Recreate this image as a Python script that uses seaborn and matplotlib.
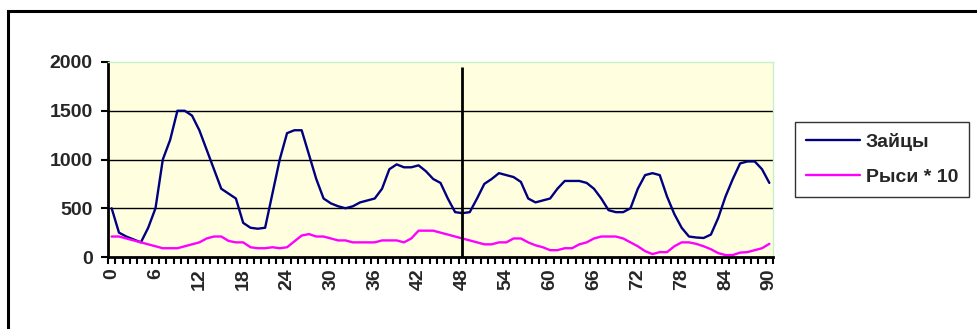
import numpy as np
import pandas as pd
import matplotlib
matplotlib.use("Agg")
import matplotlib.pyplot as plt
import seaborn as sns

years = list(range(0, 91))

hares = [500, 250, 210, 180, 150, 300, 500, 1000, 1200, 1500,
         1500, 1450, 1300, 1100, 900, 700, 650, 600, 350, 300,
         290, 300, 650, 1000, 1270, 1300, 1300, 1050, 800, 600,
         550, 520, 500, 520, 560, 580, 600, 700, 900, 950,
         920, 920, 940, 880, 800, 760, 600, 460, 450, 460,
         600, 750, 800, 860, 840, 820, 770, 600, 560, 580,
         600, 700, 780, 780, 780, 760, 700, 600, 480, 460,
         460, 500, 700, 840, 860, 840, 620, 440, 300, 210,
         200, 195, 230, 400, 620, 800, 960, 980, 980, 900,
         760]

lynx_x10 = [210, 210, 190, 170, 150, 130, 110, 90, 90, 90,
            110, 130, 150, 190, 210, 210, 165, 150, 150, 100,
            90, 90, 100, 90, 100, 160, 220, 235, 210, 210,
            190, 170, 170, 150, 150, 150, 150, 170, 170, 170,
            150, 190, 270, 270, 270, 250, 230, 210, 190, 170,
            150, 130, 130, 150, 150, 190, 190, 150, 120, 100,
            70, 70, 90, 90, 130, 150, 190, 210, 210, 210,
            190, 150, 110, 60, 30, 50, 50, 110, 150, 150,
            135, 110, 80, 40, 20, 20, 45, 50, 70, 90,
            135]

series_names = ["Зайцы", "Рыси * 10"]
tick_years = list(range(0, 91, 6))
y_ticks = [0, 500, 1000, 1500, 2000]
marker_year = 48

df = pd.DataFrame({
    "year": years * 2,
    "value": hares + lynx_x10,
    "series": [series_names[0]] * len(years) + [series_names[1]] * len(years),
})

sns.set_style("white")
plt.rcParams["font.family"] = ["Liberation Sans", "DejaVu Sans"]
plt.rcParams["font.weight"] = "bold"
FS = 14

fig = plt.figure(figsize=(9.78, 3.29), dpi=100)
# outer chart frame (runs off the right and bottom edges)
fig.patches.append(plt.Rectangle((8 / 978, -0.05), 1.1, 1 - 11 / 329 + 0.05,
                                 transform=fig.transFigure, fill=False,
                                 edgecolor="black", linewidth=2.2))

ax = fig.add_axes([108 / 978, 72 / 329, 665 / 978, 195 / 329])
ax.set_facecolor("#FFFFE0")

sns.lineplot(data=df, x="year", y="value", hue="series",
             palette=["#000080", "#FF00FF"], linewidth=1.7, ax=ax)

for v in y_ticks[1:-1]:
    ax.axhline(v, color="black", linewidth=1.0, zorder=1)
ax.vlines(marker_year, 0, 1950, color="black", linewidth=2.0, zorder=3)

ax.set_xlim(-0.5, 90.5)
ax.set_ylim(0, 2000)
ax.set_xticks(np.arange(-0.5, 91, 1.0))
ax.set_xticks(tick_years, minor=True)
ax.set_xticklabels([])
ax.set_xticklabels([str(t) for t in tick_years], minor=True, rotation=90,
                   fontsize=FS, fontweight="bold")
ax.tick_params(axis="x", which="major", direction="out", length=5, width=1.5,
               color="black", bottom=True)
ax.tick_params(axis="x", which="minor", length=0, pad=8)
ax.set_yticks(y_ticks)
ax.set_yticklabels([str(t) for t in y_ticks], fontsize=FS, fontweight="bold")
ax.tick_params(axis="y", direction="out", length=5, width=1.5, color="black",
               left=True, pad=6)

ax.set_xlabel("")
ax.set_ylabel("")
for side in ["top", "right"]:
    ax.spines[side].set_color("#C8F0C8")
    ax.spines[side].set_linewidth(1.0)
for side in ["left", "bottom"]:
    ax.spines[side].set_color("black")
    ax.spines[side].set_linewidth(2.0)

handles, labels = ax.get_legend_handles_labels()
leg = fig.legend(handles, labels, loc="upper left",
                 bbox_to_anchor=(795 / 978, 1 - 122 / 329),
                 frameon=True, fancybox=False, edgecolor="black",
                 prop={"weight": "bold", "size": FS},
                 handlelength=2.8, handletextpad=0.3, borderpad=0.55,
                 labelspacing=0.9, borderaxespad=0)
leg.get_frame().set_linewidth(1.0)
ax.get_legend().remove()

fig.savefig("out.png", dpi=100)
